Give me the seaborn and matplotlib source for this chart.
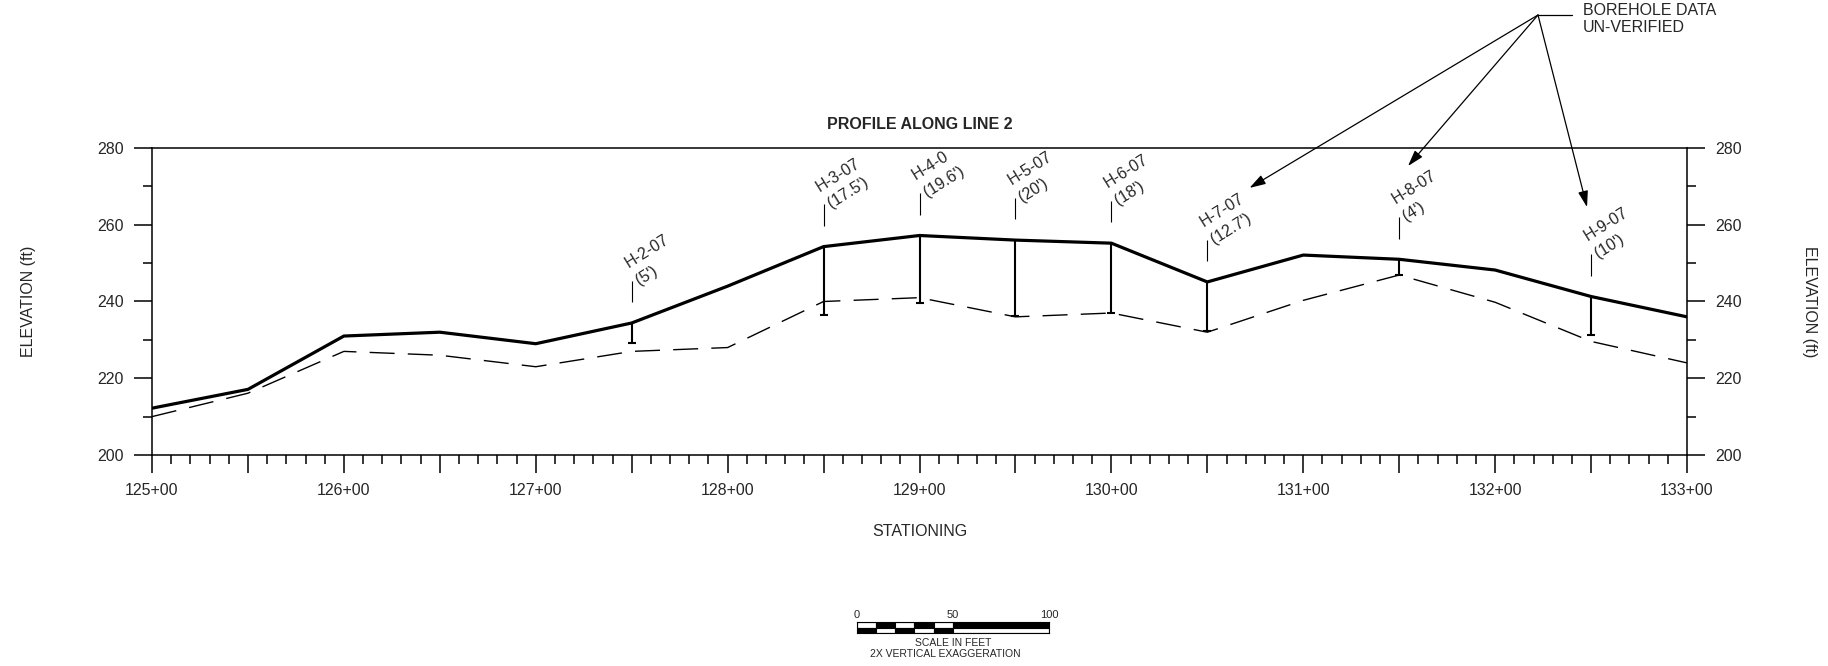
import numpy as np
import pandas as pd
import seaborn as sns
from matplotlib import pyplot as plt
from matplotlib.ticker import MultipleLocator, FuncFormatter

# stationing in feet (125+00 -> 12500)
stations = [12500, 12550, 12600, 12650, 12700, 12750, 12800, 12850, 12900,
            12950, 13000, 13050, 13100, 13150, 13200, 13250, 13300]
ground = [212.2, 217.1, 231.0, 232.0, 229.0, 234.4, 244.0, 254.3, 257.2,
          256.0, 255.2, 245.1, 252.1, 251.0, 248.2, 241.3, 236.0]
rock = [210.0, 216.1, 227.0, 226.0, 223.0, 227.0, 228.0, 240.0, 241.0,
        236.0, 237.0, 232.0, 240.3, 246.9, 239.8, 229.6, 224.0]

# boreholes
bh_names = ["H-2-07", "H-3-07", "H-4-0", "H-5-07", "H-6-07", "H-7-07", "H-8-07", "H-9-07"]
bh_station = [12750, 12850, 12900, 12950, 13000, 13050, 13150, 13250]
bh_depth = ["5'", "17.5'", "19.6'", "20'", "18'", "12.7'", "4'", "10'"]
bh_bottom = [229.2, 236.6, 239.6, 236.2, 237.1, 232.3, 247.0, 231.3]

# scale bar (feet)
scale_start = [0, 10, 20, 30, 40, 50]
scale_width = [10, 10, 10, 10, 10, 50]
scale_ticks = [0, 50, 100]

df = pd.DataFrame({"station": stations, "ground": ground, "rock": rock})
bh = pd.DataFrame({"name": bh_names, "station": bh_station,
                   "depth": bh_depth, "bottom": bh_bottom})
bh["top"] = bh["station"].map(df.set_index("station")["ground"])

sns.set_style("ticks")
plt.rcParams["font.family"] = ["Liberation Sans", "DejaVu Sans"]

W, H = 1828, 666
fig = plt.figure(figsize=(W / 100, H / 100), dpi=100)
ax = fig.add_axes([152 / W, 1 - 455 / H, 1535 / W, 307 / H])

# lines
sns.lineplot(data=df, x="station", y="rock", color="black", lw=1.0,
             linestyle=(0, (18, 9.5)), ax=ax)
sns.lineplot(data=df, x="station", y="ground", color="black", lw=2.3, ax=ax)

# borehole sticks + caps
ax.vlines(bh["station"], bh["bottom"], bh["top"], color="black", lw=1.5)
ax.plot(bh["station"], bh["bottom"], ls="none", marker="_", ms=6, mew=1.5, color="black")

# label leaders and labels
gap, seg = 5.4, 5.6
ax.vlines(bh["station"], bh["top"] + gap, bh["top"] + gap + seg, color="black", lw=0.8)
for _, r in bh.iterrows():
    ax.annotate(f"{r['name']}\n({r['depth']})", xy=(r["station"], r["top"] + gap + seg),
                xytext=(6.5, -5), textcoords="offset points", rotation=32,
                rotation_mode="anchor", ha="left", va="bottom", fontsize=11.5,
                linespacing=1.45)

# axes formatting
ax.set_xlim(12500, 13300)
ax.set_ylim(200, 280)
ax.xaxis.set_major_locator(MultipleLocator(50))
ax.xaxis.set_minor_locator(MultipleLocator(10))
ax.xaxis.set_major_formatter(FuncFormatter(
    lambda v, p: f"{int(v // 100)}+{int(v % 100):02d}" if v % 100 == 0 else ""))
ax.yaxis.set_major_locator(MultipleLocator(20))
ax.yaxis.set_minor_locator(MultipleLocator(10))
ax.tick_params(which="both", direction="out", width=1.1, color="black",
               labelsize=11.5, pad=7.5, right=True, labelright=True)
ax.tick_params(which="major", length=13)
ax.tick_params(which="minor", length=6.5)
for s in ax.spines.values():
    s.set_color("black")
    s.set_linewidth(1.1)

ax.set_title("PROFILE ALONG LINE 2", fontsize=11.5, fontweight="bold", pad=14)
ax.set_xlabel("STATIONING", fontsize=11.5)
ax.xaxis.set_label_coords(0.5, -0.225)
ax.set_ylabel("")
fig.text(28 / W, 1 - 301.5 / H, "ELEVATION (ft)", rotation=90, ha="center", va="center", fontsize=11.5)
fig.text(1810 / W, 1 - 301.5 / H, "ELEVATION (ft)", rotation=270, ha="center", va="center", fontsize=11.5)

# "borehole data un-verified" callout
hub = (1538 / W, 1 - 15 / H)
fig.add_artist(plt.Line2D([hub[0], 1572 / W], [hub[1], hub[1]], transform=fig.transFigure,
                          color="black", lw=0.9))
fig.text(1583 / W, 1 - 3 / H, "BOREHOLE DATA\nUN-VERIFIED", ha="left", va="top",
         fontsize=11.5, linespacing=1.2)
arrow_tips = [(13072, 269.6), (13154.6, 275.3), (13247.9, 264.6)]
for tip in arrow_tips:
    ax.annotate("", xy=tip, xycoords="data", xytext=hub, textcoords="figure fraction",
                annotation_clip=False,
                arrowprops=dict(arrowstyle="-|>,head_length=0.65,head_width=0.2",
                                color="black", lw=0.9, shrinkA=0, shrinkB=0,
                                mutation_scale=15))

# scale bar
sax = fig.add_axes([856.7 / W, 1 - 633.3 / H, 192.3 / W, 11.6 / H])
for i, (s0, w) in enumerate(zip(scale_start, scale_width)):
    top_c = "black" if i % 2 else "white"
    bot_c = "white" if i % 2 else "black"
    sax.bar(s0, 1, width=w, bottom=1, align="edge", color=top_c, edgecolor="black", lw=0.8)
    sax.bar(s0, 1, width=w, bottom=0, align="edge", color=bot_c, edgecolor="black", lw=0.8)
sax.set_xlim(0, 100)
sax.set_ylim(0, 2)
sax.set_yticks([])
sax.set_xticks(scale_ticks)
sax.xaxis.tick_top()
sax.tick_params(axis="x", length=0, pad=1, labelsize=8)
for s in sax.spines.values():
    s.set_color("black")
    s.set_linewidth(0.8)
fig.text(952.9 / W, 1 - 642.7 / H, "SCALE IN FEET", ha="center", va="center", fontsize=7.5)
fig.text(945 / W, 1 - 654 / H, "2X VERTICAL EXAGGERATION", ha="center", va="center", fontsize=7.5)

fig.savefig("out.png", dpi=100)
